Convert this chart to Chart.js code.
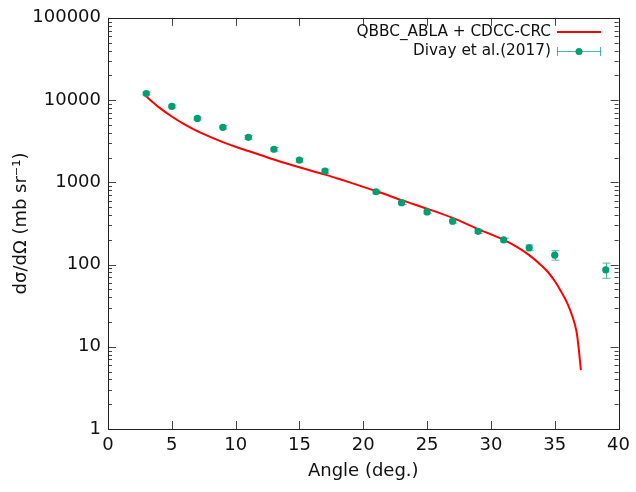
<!DOCTYPE html>
<html>
<head>
<meta charset="utf-8">
<script src="https://cdn.jsdelivr.net/npm/chart.js@4.4.0/dist/chart.umd.min.js"></script>
<style>
  body { margin: 0; background: #fff; }
  #wrap { width: 636px; height: 492px; }
</style>
</head>
<body>
<div id="wrap"><canvas id="xsChart" width="636" height="492"></canvas></div>
<script>
// Theory curve (QBBC_ABLA + CDCC-CRC)
const calcAngle = [3, 4, 5, 6, 7, 8, 9, 10, 11, 12, 13, 14, 15, 16, 17, 18, 19, 20, 21, 22, 23, 25, 27, 29, 31, 32, 33, 34, 34.5, 35, 35.5, 36, 36.4, 36.7, 36.85, 37.05];
const calcXs = [11060, 8150, 6300, 5050, 4180, 3560, 3080, 2700, 2400, 2130, 1890, 1690, 1520, 1370, 1240, 1110, 990, 880, 780, 690, 606, 478, 369, 270, 199, 165, 130, 96, 80, 63, 47, 33.5, 23, 15.5, 10.5, 5.2];

// Divay et al. (2017) data
const expAngle = [3, 5, 7, 9, 11, 13, 15, 17, 21, 23, 25, 27, 29, 31, 33, 35, 39];
const expXs = [12000, 8360, 5980, 4660, 3520, 2520, 1860, 1370, 767, 565, 436, 337, 253, 199, 160, 130, 86];
const expErr = [480, 340, 260, 220, 180, 130, 100, 80, 35, 28, 22, 17, 14, 10, 13, 17, 18];

const xTicks = [0, 5, 10, 15, 20, 25, 30, 35, 40];
const yTicks = [1, 10, 100, 1000, 10000, 100000];

const calcLabel = 'QBBC_ABLA + CDCC-CRC';
const expLabel = 'Divay et al.(2017)';

const FONT = "'DejaVu Sans', sans-serif";
const GREEN = '#009e73';

// gnuplot-like frame, inward ticks, error bars and legend
const framePlugin = {
    id: 'frame',
    beforeDatasetsDraw(chart) {
        const ctx = chart.ctx;
        const xs = chart.scales.x, ys = chart.scales.y;
        ctx.save();
        ctx.strokeStyle = 'rgba(0,158,115,0.7)';
        ctx.lineWidth = 1;
        expAngle.forEach((a, i) => {
            const px = Math.round(xs.getPixelForValue(a)) + 0.5;
            const lo = ys.getPixelForValue(expXs[i] - expErr[i]);
            const hi = ys.getPixelForValue(expXs[i] + expErr[i]);
            ctx.beginPath();
            ctx.moveTo(px, lo); ctx.lineTo(px, hi);
            ctx.moveTo(px - 4, lo); ctx.lineTo(px + 4, lo);
            ctx.moveTo(px - 4, hi); ctx.lineTo(px + 4, hi);
            ctx.stroke();
        });
        ctx.restore();
    },
    afterDatasetsDraw(chart) {
        const ctx = chart.ctx;
        const a = chart.chartArea;
        const xs = chart.scales.x, ys = chart.scales.y;
        ctx.save();
        ctx.strokeStyle = '#444';
        ctx.lineWidth = 1;
        ctx.beginPath();
        xTicks.forEach(v => {
            const px = Math.round(xs.getPixelForValue(v)) + 0.5;
            ctx.moveTo(px, a.bottom); ctx.lineTo(px, a.bottom - 8);
            ctx.moveTo(px, a.top); ctx.lineTo(px, a.top + 8);
        });
        yTicks.forEach((v, k) => {
            const py = Math.round(ys.getPixelForValue(v)) + 0.5;
            ctx.moveTo(a.left, py); ctx.lineTo(a.left + 8, py);
            ctx.moveTo(a.right, py); ctx.lineTo(a.right - 8, py);
            if (k < yTicks.length - 1) {
                for (let m = 2; m <= 9; m++) {
                    const pm = Math.round(ys.getPixelForValue(v * m)) + 0.5;
                    ctx.moveTo(a.left, pm); ctx.lineTo(a.left + 4, pm);
                    ctx.moveTo(a.right, pm); ctx.lineTo(a.right - 4, pm);
                }
            }
        });
        ctx.stroke();
        ctx.strokeStyle = '#222';
        ctx.strokeRect(Math.round(a.left) + 0.5, Math.round(a.top) + 0.5,
            Math.round(a.right - a.left), Math.round(a.bottom - a.top));

        // legend
        ctx.font = '15.3px ' + FONT;
        ctx.fillStyle = '#111';
        ctx.textAlign = 'right';
        ctx.textBaseline = 'middle';
        ctx.fillText(calcLabel, 551, 32);
        ctx.fillText(expLabel, 551, 51);
        ctx.strokeStyle = '#ff0000';
        ctx.lineWidth = 2;
        ctx.beginPath();
        ctx.moveTo(557, 32); ctx.lineTo(601, 32);
        ctx.stroke();
        ctx.strokeStyle = 'rgba(0,158,115,0.7)';
        ctx.lineWidth = 1;
        ctx.beginPath();
        ctx.moveTo(557, 51.5); ctx.lineTo(601, 51.5);
        ctx.moveTo(557.5, 47); ctx.lineTo(557.5, 56);
        ctx.moveTo(600.5, 47); ctx.lineTo(600.5, 56);
        ctx.stroke();
        ctx.fillStyle = GREEN;
        ctx.beginPath();
        ctx.arc(579, 51.5, 3.5, 0, Math.PI * 2);
        ctx.fill();
        ctx.restore();
    }
};

document.addEventListener('DOMContentLoaded', function () {
    const ctx = document.getElementById('xsChart').getContext('2d');
    new Chart(ctx, {
        type: 'scatter',
        data: {
            datasets: [{
                label: calcLabel,
                type: 'line',
                data: calcAngle.map((a, i) => ({ x: a, y: calcXs[i] })),
                borderColor: '#ff0000',
                borderWidth: 2,
                pointRadius: 0,
                cubicInterpolationMode: 'monotone',
                fill: false,
                order: 1
            }, {
                label: expLabel,
                data: expAngle.map((a, i) => ({ x: a, y: expXs[i] })),
                backgroundColor: GREEN,
                borderColor: GREEN,
                borderWidth: 0,
                pointRadius: 3.6,
                showLine: false,
                order: 0
            }]
        },
        options: {
            responsive: false,
            animation: false,
            layout: { padding: { top: 16, right: 14, left: 0, bottom: 0 } },
            plugins: {
                legend: { display: false },
                tooltip: { enabled: false }
            },
            scales: {
                x: {
                    type: 'linear',
                    min: 0,
                    max: 40,
                    grid: { display: false, drawTicks: false },
                    border: { display: false },
                    afterBuildTicks: s => { s.ticks = xTicks.map(v => ({ value: v })); },
                    afterFit: s => { s.height = 63; },
                    ticks: {
                        padding: 6,
                        color: '#111',
                        font: { family: FONT, size: 18 },
                        callback: v => String(v)
                    },
                    title: {
                        display: true,
                        text: 'Angle (deg.)',
                        color: '#111',
                        font: { family: FONT, size: 18 },
                        padding: { top: 0, bottom: 10 }
                    }
                },
                y: {
                    type: 'logarithmic',
                    min: 1,
                    max: 100000,
                    grid: { display: false, drawTicks: false },
                    border: { display: false },
                    afterBuildTicks: s => { s.ticks = yTicks.map(v => ({ value: v })); },
                    afterFit: s => { s.width = 108; },
                    ticks: {
                        padding: 7,
                        color: '#111',
                        font: { family: FONT, size: 18 },
                        callback: v => String(v)
                    },
                    title: {
                        display: true,
                        text: 'dσ/dΩ (mb sr⁻¹)',
                        color: '#111',
                        font: { family: FONT, size: 18 },
                        padding: { top: 11, bottom: 0 }
                    }
                }
            }
        },
        plugins: [framePlugin]
    });
});
</script>
</body>
</html>
